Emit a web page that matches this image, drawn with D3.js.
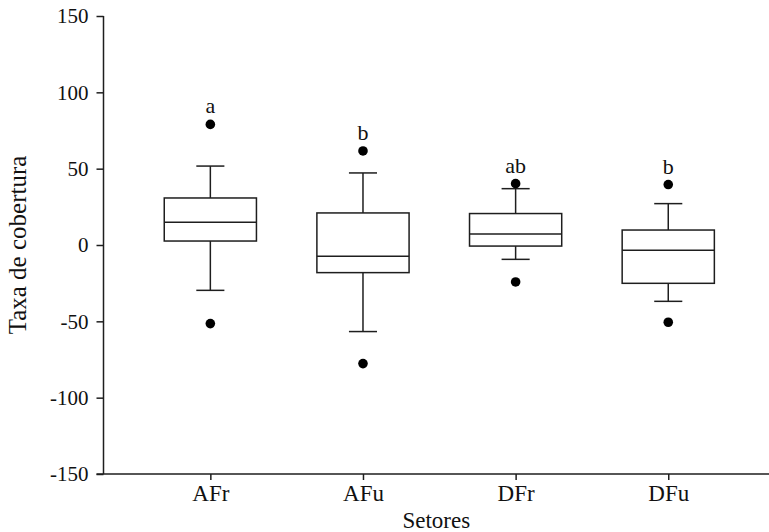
<!DOCTYPE html>
<html>
<head>
<meta charset="utf-8">
<script src="https://cdn.jsdelivr.net/npm/d3@7"></script>
<style>
  html, body { margin: 0; padding: 0; background: #fff; }
  svg { display: block; }
  text { font-family: "Liberation Serif", "Times New Roman", serif; fill: #111; }
</style>
</head>
<body>
<svg id="chart" width="769" height="532"></svg>
<script>
// Sectors and their box-plot summaries (taxa de cobertura)
const categories   = ["AFr", "AFu", "DFr", "DFu"];
const whiskerLow   = [-29.7, -56.7, -9.4, -36.9];
const q1           = [2.6, -18.1, -0.7, -25.1];
const median       = [14.9, -7.4, 7.2, -3.5];
const q3           = [30.8, 21.0, 20.6, 9.8];
const whiskerHigh  = [51.7, 47.2, 36.9, 27.1];
const outlierLow   = [-51.5, -77.7, -24.2, -50.6];
const outlierHigh  = [79.0, 61.6, 40.2, 39.6];
const groupLetters = ["a", "b", "ab", "b"];
const yTicks       = [-150, -100, -50, 0, 50, 100, 150];

const svg = d3.select("#chart");
const ink = "#1e1e1e";

const plotLeft = 103.5, plotRight = 769, plotTop = 16, plotBottom = 474;

// Categories sit at positions 1..4 on a numeric axis
const x = d3.scaleLinear().domain([0.3, 4.66]).range([plotLeft, plotRight]);
const y = d3.scaleLinear().domain([-150, 150]).range([plotBottom, plotTop]);
const halfBox = 0.302, halfCap = 0.092;

const data = categories.map((c, i) => ({
  name: c, pos: i + 1,
  lo: whiskerLow[i], q1: q1[i], med: median[i], q3: q3[i], hi: whiskerHigh[i],
  outs: [outlierLow[i], outlierHigh[i]], letter: groupLetters[i]
}));

// Y axis (plain hyphen for negative numbers)
const yAxis = d3.axisLeft(y).tickValues(yTicks).tickSize(7).tickPadding(8)
  .tickFormat(d => String(d));
const gy = svg.append("g").attr("transform", `translate(${plotLeft},0)`).call(yAxis);
gy.select(".domain").attr("d", `M0,${plotTop}V${plotBottom}`);

// X axis
const xAxis = d3.axisBottom(x).tickValues(data.map(d => d.pos))
  .tickFormat((d, i) => categories[i]).tickSize(6).tickPadding(5);
const gx = svg.append("g").attr("transform", `translate(0,${plotBottom})`).call(xAxis);
gx.select(".domain").attr("d", `M${plotLeft - 7},0H${plotRight}`);

[gx, gy].forEach(g => {
  g.selectAll("path, line").attr("stroke", ink).attr("stroke-width", 1.5);
  g.selectAll("text").style("font-family", "Liberation Serif, serif")
    .style("font-size", "21px").attr("fill", ink);
});
gx.selectAll("text").style("font-size", "23px");

// Axis titles
svg.append("text")
  .attr("transform", `translate(25.5,${(plotTop + plotBottom) / 2}) rotate(-90)`)
  .attr("text-anchor", "middle")
  .style("font-size", "25px")
  .text("Taxa de cobertura");

svg.append("text")
  .attr("x", (plotLeft + plotRight) / 2).attr("y", 528)
  .attr("text-anchor", "middle")
  .style("font-size", "23px")
  .text("Setores");

// Boxes
const g = svg.append("g").attr("stroke", ink).attr("stroke-width", 1.5).attr("fill", "none");
const box = g.selectAll("g.box").data(data).join("g").attr("class", "box");

// whiskers
box.append("line")
  .attr("x1", d => x(d.pos)).attr("x2", d => x(d.pos))
  .attr("y1", d => y(d.q3)).attr("y2", d => y(d.hi));
box.append("line")
  .attr("x1", d => x(d.pos)).attr("x2", d => x(d.pos))
  .attr("y1", d => y(d.q1)).attr("y2", d => y(d.lo));
// caps
box.append("line")
  .attr("x1", d => x(d.pos - halfCap)).attr("x2", d => x(d.pos + halfCap))
  .attr("y1", d => y(d.hi)).attr("y2", d => y(d.hi));
box.append("line")
  .attr("x1", d => x(d.pos - halfCap)).attr("x2", d => x(d.pos + halfCap))
  .attr("y1", d => y(d.lo)).attr("y2", d => y(d.lo));
// box body
box.append("rect")
  .attr("x", d => x(d.pos - halfBox))
  .attr("width", d => x(d.pos + halfBox) - x(d.pos - halfBox))
  .attr("y", d => y(d.q3))
  .attr("height", d => y(d.q1) - y(d.q3))
  .attr("fill", "#fff");
// median
box.append("line")
  .attr("x1", d => x(d.pos - halfBox)).attr("x2", d => x(d.pos + halfBox))
  .attr("y1", d => y(d.med)).attr("y2", d => y(d.med));

// outliers
svg.append("g").selectAll("circle")
  .data(data.flatMap(d => d.outs.map(v => ({ pos: d.pos, v }))))
  .join("circle")
  .attr("cx", d => x(d.pos)).attr("cy", d => y(d.v))
  .attr("r", 4.8).attr("fill", "#000");

// significance letters above the highest point
svg.append("g").selectAll("text")
  .data(data).join("text")
  .attr("x", d => x(d.pos)).attr("y", d => y(d.outs[1]) - 11)
  .attr("text-anchor", "middle")
  .style("font-size", "22px")
  .text(d => d.letter);
</script>
</body>
</html>
